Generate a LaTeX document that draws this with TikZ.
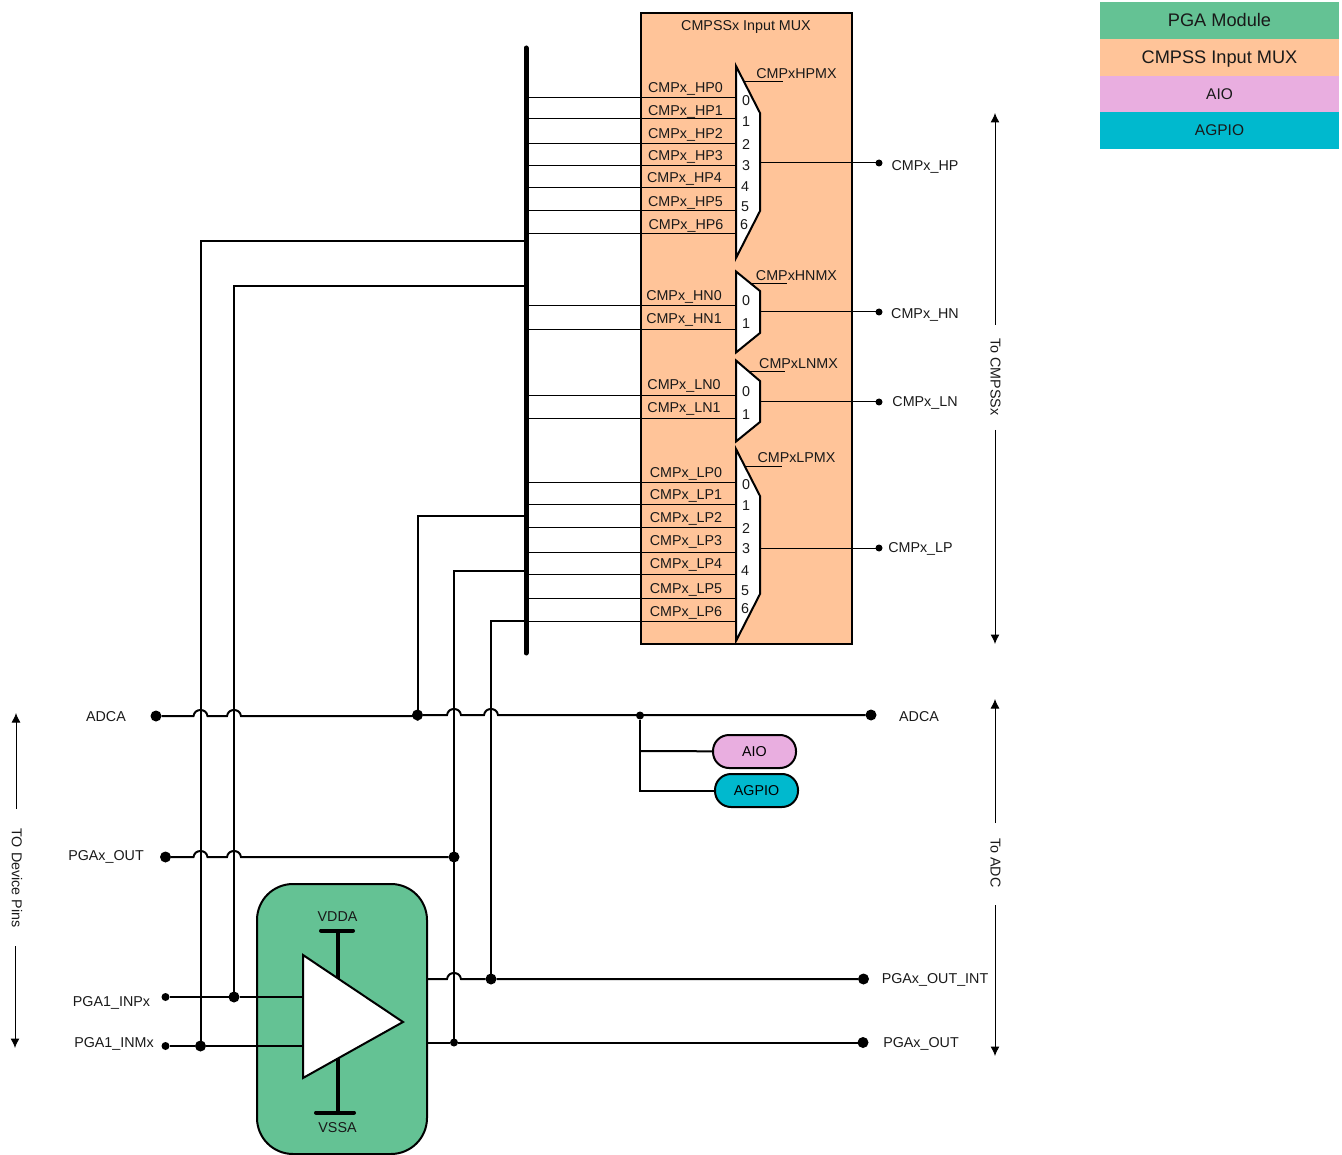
\documentclass[tikz,border=0pt]{standalone}
\usepackage{fontspec}
\setmainfont{Liberation Sans}
\usetikzlibrary{arrows.meta}
\definecolor{muxorange}{HTML}{FFC499}
\definecolor{pgagreen}{HTML}{64C294}
\definecolor{aiopurple}{HTML}{E9AEE0}
\definecolor{agpioteal}{HTML}{00B9CE}
\newcommand\hopat[2]{-- ({#1-7},#2) .. controls ({#1-6},{#2-8}) and ({#1+6},{#2-8}) .. ({#1+7},#2)}
\tikzset{
  x=1pt,y=-1pt,
  lbl/.style={inner sep=0pt,outer sep=0pt,yshift=-1.5pt,font=\fontsize{14.3}{16}\selectfont,text=black!90},
  vlbl/.style={inner sep=0pt,outer sep=0pt,rotate=-90,font=\fontsize{14.3}{16}\selectfont,text=black!90},
  thinwire/.style={line width=1pt,black},
  wire/.style={line width=2pt,black},
  muxshape/.style={line width=2pt,draw=black,fill=white,miter limit=10},
  bigdot/.style={circle,fill=black,inner sep=0pt,outer sep=0pt,minimum size=11pt},
  smalldot/.style={circle,fill=black,inner sep=0pt,outer sep=0pt,minimum size=7pt},
  legendbar/.style={inner sep=0pt,outer sep=0pt,minimum width=239pt,text=black!90,text depth=0pt},
  pill/.style={draw=black,line width=2pt,rounded corners=16pt,inner sep=0pt,outer sep=0pt,minimum width=83pt,minimum height=33pt,font=\fontsize{14.3}{16}\selectfont,text height=10pt,text depth=0pt},
  dimarrow/.style={line width=1pt,black,-{Latex[length=9.5pt,width=9pt]}},
  rail/.style={line width=4pt,black,line cap=round},
  stem/.style={line width=4pt,black},
}
\begin{document}
\begin{tikzpicture}
\useasboundingbox (0,0) rectangle (1342,1155);

% legend
\node[legendbar,fill=pgagreen,minimum height=37pt,font=\fontsize{18.2}{20}\selectfont,text height=13pt] (legA) at (1219.5,20.5) {PGA Module};
\node[legendbar,fill=muxorange,minimum height=37pt,font=\fontsize{18.2}{20}\selectfont,text height=13pt] (legB) at (1219.5,57.5) {CMPSS Input MUX};
\node[legendbar,fill=aiopurple,minimum height=36pt,font=\fontsize{15.5}{18}\selectfont,text height=11pt] (legC) at (1219.5,94) {AIO};
\node[legendbar,fill=agpioteal,minimum height=37pt,font=\fontsize{15.5}{18}\selectfont,text height=11pt] (legD) at (1219.5,130.5) {AGPIO};

% mux box
\draw[line width=2pt,fill=muxorange] (641,13) rectangle (852,643.5);
\node[lbl] (boxtitle) at (746,25) {CMPSSx Input MUX};

% bus tap wires
\foreach \n/\y in {HPa/98,HPb/119,HPc/144,HPd/166,HPe/188,HPf/211,HPg/234,
  HNa/306,HNb/330,LNa/396,LNb/419,
  LPa/483,LPb/504,LPc/527.5,LPd/552,LPe/574,LPf/598,LPg/621}{
  \coordinate (bus\n) at (526,\y);
  \coordinate (pin\n) at (736,\y);
  \draw[thinwire] (bus\n) -- (pin\n);
}
\foreach \n/\t/\lx/\ly in {a/CMPx\_HP0/685.5/87,b/CMPx\_HP1/685.5/110,c/CMPx\_HP2/685.5/133,d/CMPx\_HP3/685.5/155,e/CMPx\_HP4/684.5/177,f/CMPx\_HP5/685.5/201,g/CMPx\_HP6/686/224}{
  \node[lbl] (lblHP\n) at (\lx,\ly) {\t};
}
\foreach \n/\t/\lx/\ly in {a/CMPx\_HN0/684/295,b/CMPx\_HN1/684/318}{
  \node[lbl] (lblHN\n) at (\lx,\ly) {\t};
}
\foreach \n/\t/\lx/\ly in {a/CMPx\_LN0/684/384,b/CMPx\_LN1/684/407}{
  \node[lbl] (lblLN\n) at (\lx,\ly) {\t};
}
\foreach \n/\t/\lx/\ly in {a/CMPx\_LP0/686/472,b/CMPx\_LP1/686/494,c/CMPx\_LP2/686/517,d/CMPx\_LP3/686/540,e/CMPx\_LP4/686/563,f/CMPx\_LP5/686/588,g/CMPx\_LP6/686/611}{
  \node[lbl] (lblLP\n) at (\lx,\ly) {\t};
}

% output dots and wires
\node[smalldot] (outHP) at (879,163) {};
\node[smalldot] (outHN) at (879,312) {};
\node[smalldot] (outLN) at (879,402) {};
\node[smalldot] (outLP) at (879,548) {};
\coordinate (muxHPo) at (760,163);
\coordinate (muxHNo) at (760,312);
\coordinate (muxLNo) at (760,402);
\coordinate (muxLPo) at (760,548);
\draw[thinwire] (muxHPo) -- (outHP);
\draw[thinwire] (muxHNo) -- (outHN);
\draw[thinwire] (muxLNo) -- (outLN);
\draw[thinwire] (muxLPo) -- (outLP);
\node[lbl] (tHP) at (925,165) {CMPx\_HP};
\node[lbl] (tHN) at (925,313) {CMPx\_HN};
\node[lbl] (tLN) at (925,401) {CMPx\_LN};
\node[lbl] (tLP) at (920.5,547) {CMPx\_LP};

% muxes
\draw[muxshape] (736,66) -- (760,113) -- (760,211) -- (736,258) -- cycle;
\draw[muxshape] (736,271.5) -- (760,291) -- (760,333) -- (736,352.5) -- cycle;
\draw[muxshape] (736,360.5) -- (760,381) -- (760,422) -- (736,441.5) -- cycle;
\draw[muxshape] (736,449) -- (760,496) -- (760,594) -- (736,641) -- cycle;

% mux numbers
\foreach \t/\lx/\ly in {0/746/99,1/746/120,2/746/143,3/746/164,4/745/185,5/745/205,6/744/223,
  0/746/299,1/746/322,0/746/390,1/746/413,
  0/746/483,1/746/504,2/746/527,3/746/547,4/745/569,5/745/589,6/745/607}{
  \node[lbl] at (\lx,\ly) {\t};
}

% mux select labels
\node[lbl] (selHP) at (796.5,72.5) {CMPxHPMX};
\node[lbl] (selHN) at (796.5,274.5) {CMPxHNMX};
\node[lbl] (selLN) at (798.5,362.5) {CMPxLNMX};
\node[lbl] (selLP) at (796.5,456.5) {CMPxLPMX};
\coordinate (uHPa) at (745,81.5); \coordinate (uHPb) at (783,81.5);
\coordinate (uHNa) at (750,283.5); \coordinate (uHNb) at (787,283.5);
\coordinate (uLNa) at (750,371.5); \coordinate (uLNb) at (785,371.5);
\coordinate (uLPa) at (745,466.5); \coordinate (uLPb) at (782,466.5);
\draw[thinwire] (uHPa) -- (uHPb);
\draw[thinwire] (uHNa) -- (uHNb);
\draw[thinwire] (uLNa) -- (uLNb);
\draw[thinwire] (uLPa) -- (uLPb);

% PGA module
\node[draw=black,line width=2pt,fill=pgagreen,rounded corners=36pt,inner sep=0pt,outer sep=0pt,minimum width=170pt,minimum height=270pt] (pga) at (342,1019) {};
\node[lbl] (vdda) at (337.5,915.5) {VDDA};
\node[lbl] (vssa) at (337.5,1126.5) {VSSA};
\coordinate (railTa) at (321,930.5); \coordinate (railTb) at (353,930.5);
\coordinate (railBa) at (316,1112.5); \coordinate (railBb) at (354,1112.5);
\coordinate (stemTa) at (338,930); \coordinate (stemTb) at (338,985);
\coordinate (stemBa) at (337.5,1112); \coordinate (stemBb) at (337.5,1050);
\draw[rail] (railTa) -- (railTb);
\draw[rail] (railBa) -- (railBb);
\draw[stem] (stemTa) -- (stemTb);
\draw[stem] (stemBa) -- (stemBb);

% input and output dots
\node[bigdot] (adcaL) at (156,716) {};
\node[bigdot] (adcaR) at (871,715) {};
\node[bigdot] (pgaoutL) at (165.5,857) {};
\node[bigdot] (jPgaout) at (454,857) {};
\node[smalldot,minimum size=8pt] (inp) at (165.5,997) {};
\node[smalldot,minimum size=8pt] (inm) at (165.5,1046) {};
\node[bigdot] (jInp) at (234,997) {};
\node[bigdot] (jInm) at (200.5,1046) {};
\node[bigdot] (jAdca) at (417.5,715) {};
\node[smalldot,minimum size=8pt] (jMux) at (640,715.5) {};
\node[bigdot] (jInt) at (491,979) {};
\node[smalldot,minimum size=8pt] (jOut) at (454,1042.5) {};
\node[bigdot] (outInt) at (863.5,979) {};
\node[bigdot] (outOut) at (863,1042.5) {};

% bus side coordinates
\coordinate (busN) at (200.5,241); \coordinate (busNt) at (526,241);
\coordinate (busP) at (234,286); \coordinate (busPt) at (526,286);
\coordinate (busA) at (417.5,516); \coordinate (busAt) at (526,516);
\coordinate (busO) at (454,571); \coordinate (busOt) at (526,571);
\coordinate (busI) at (491,621); \coordinate (busIt) at (526,621);
\draw[wire] (busNt) -- (busN) -- (jInm);
\draw[wire] (busPt) -- (busP) -- (jInp);
\draw[wire] (busAt) -- (busA) -- (jAdca);
\draw[wire] (busOt) -- (busO) -- (jOut);
\draw[wire] (busIt) -- (busI) -- (jInt);

% hopping horizontals
\coordinate (adcaKink) at (417.5,716);
\draw[wire] (adcaL) \hopat{200.5}{716} \hopat{234}{716} -- (adcaKink) -- (jAdca) \hopat{454}{715} \hopat{491}{715} -- (adcaR);
\draw[wire] (pgaoutL) \hopat{200.5}{857} \hopat{234}{857} -- (jPgaout);

% amplifier wires
\coordinate (ampP) at (303,997);
\coordinate (ampM) at (303,1046);
\coordinate (pgaOa) at (427,979);
\coordinate (pgaOb) at (427,1042.5);
\draw[wire] (inp) -- (jInp) -- (ampP);
\draw[wire] (inm) -- (jInm) -- (ampM);
\draw[wire] (pgaOa) \hopat{454}{979} -- (jInt) -- (outInt);
\draw[wire] (pgaOb) -- (jOut) -- (outOut);

% amplifier triangle
\draw[muxshape] (303,955) -- (403,1022) -- (303,1078) -- cycle;

% AIO pills
\node[pill,fill=aiopurple] (aio) at (754.5,751.5) {AIO};
\node[pill,fill=agpioteal] (agpio) at (756.5,790.5) {AGPIO};
\coordinate (jAio) at (640,751);
\coordinate (jAgpio) at (640,790.5);
\draw[wire] (jMux) -- (jAgpio) -- (agpio);
\draw[wire] (jAio) -- (aio);

% bus
\coordinate (busTop) at (526,48);
\coordinate (busBot) at (526,653);
\draw[line width=5pt,line cap=round,black] (busTop) -- (busBot);

% signal labels
\node[lbl] (tAdcaL) at (106,715.5) {ADCA};
\node[lbl] (tOutL) at (106,855.5) {PGAx\_OUT};
\node[lbl] (tInp) at (111.5,1001) {PGA1\_INPx};
\node[lbl] (tInm) at (114,1042) {PGA1\_INMx};
\node[lbl] (tAdcaR) at (919,715.5) {ADCA};
\node[lbl] (tInt) at (935,978) {PGAx\_OUT\_INT};
\node[lbl] (tOutR) at (921,1042) {PGAx\_OUT};

% dimension arrows
\node[vlbl] (toPins) at (17,878) {TO Device Pins};
\node[vlbl] (toCmpss) at (995.5,377) {To CMPSSx};
\node[vlbl] (toAdc) at (995.5,863) {To ADC};
\coordinate (pinsT) at (16,713); \coordinate (pinsB) at (15,1048);
\coordinate (cmpT) at (995,113); \coordinate (cmpB) at (995,644);
\coordinate (adcT) at (995,699); \coordinate (adcB) at (995,1056);
\coordinate (pinsTs) at (16,809); \coordinate (pinsBs) at (15,946);
\coordinate (cmpTs) at (995,325); \coordinate (cmpBs) at (995,430);
\coordinate (adcTs) at (995,823); \coordinate (adcBs) at (995,905);
\draw[dimarrow] (pinsTs) -- (pinsT);
\draw[dimarrow] (pinsBs) -- (pinsB);
\draw[dimarrow] (cmpTs) -- (cmpT);
\draw[dimarrow] (cmpBs) -- (cmpB);
\draw[dimarrow] (adcTs) -- (adcT);
\draw[dimarrow] (adcBs) -- (adcB);
\end{tikzpicture}
\end{document}
